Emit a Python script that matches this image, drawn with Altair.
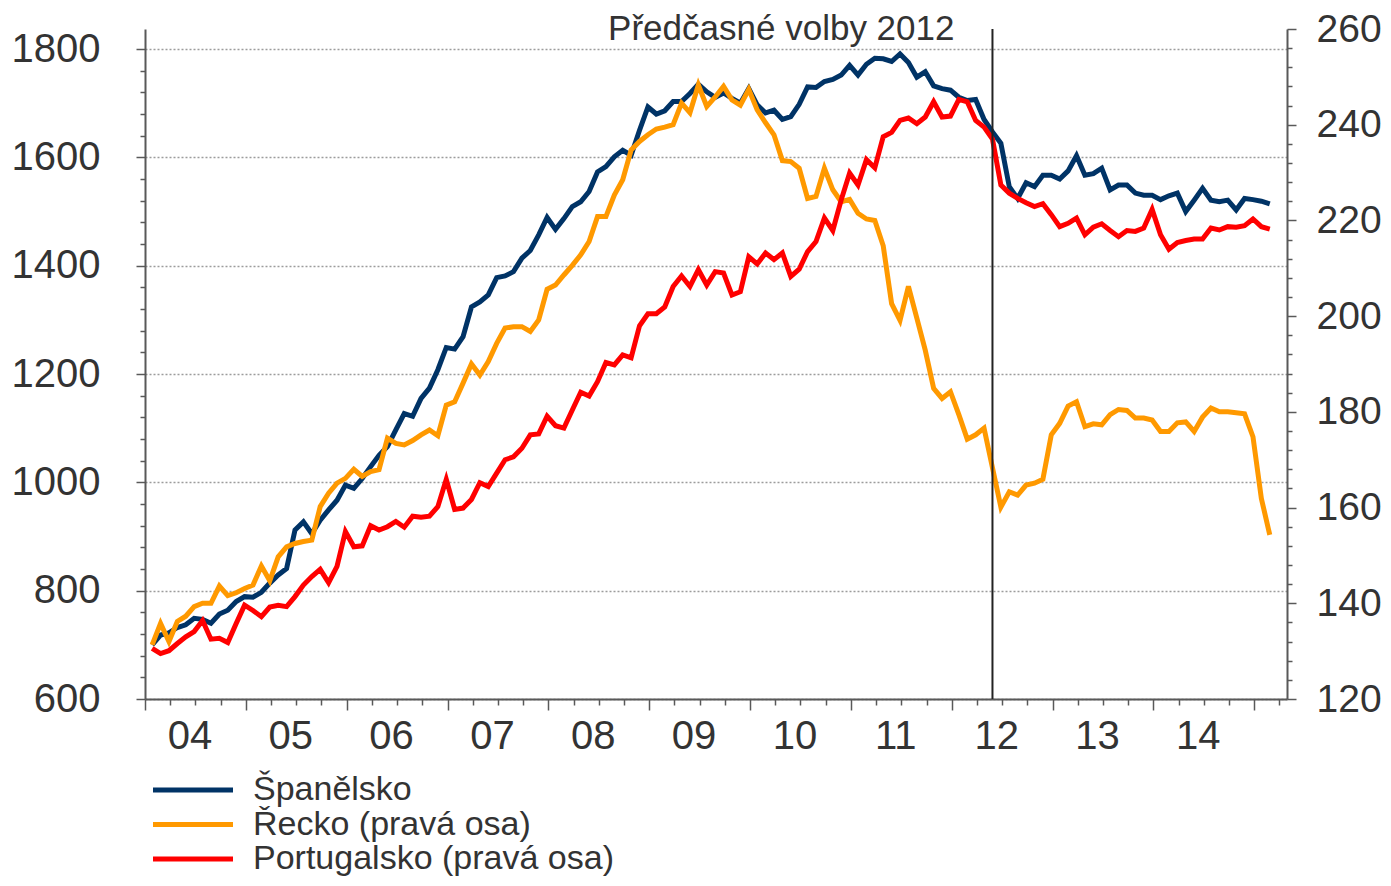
import json
import altair as alt
import pandas as pd

FONT = "Liberation Sans"
TXT = "#333333"
AX = "#595959"

series = ["Španělsko", "Řecko (pravá osa)", "Portugalsko (pravá osa)"]
colors = ["#003366", "#FF9900", "#FF0000"]
year_labels = ["04", "05", "06", "07", "08", "09", "10", "11", "12", "13", "14"]
annotation = "Předčasné volby 2012"
event_index = 100  # May 2012 (months since Jan 2004)

# Spain (left axis, EUR bn), monthly Jan 2004 - Feb 2015
spain = [700, 718, 722, 732, 737, 749, 747, 740, 757, 764, 780, 789,
         788, 797, 814, 829, 841, 912, 927, 905, 930, 949, 967, 995,
         989, 1007, 1029, 1050, 1066, 1097, 1127, 1122, 1155, 1174, 1208, 1249,
         1246, 1269, 1324, 1333, 1346, 1378, 1381, 1389, 1414, 1428, 1457, 1489,
         1467, 1487, 1509, 1518, 1537, 1573, 1583, 1601, 1613, 1604, 1650, 1693,
         1680, 1686, 1703, 1703, 1718, 1735, 1721, 1711, 1719, 1709, 1700, 1727,
         1697, 1682, 1687, 1670, 1675, 1698, 1730, 1729, 1740, 1744, 1752, 1770,
         1752, 1772, 1783, 1782, 1777, 1791, 1775, 1748, 1758, 1732, 1727, 1724,
         1711, 1705, 1707, 1670, 1647, 1626, 1546, 1524, 1553, 1546, 1567, 1567,
         1560, 1575, 1603, 1567, 1570, 1580, 1540, 1549, 1549, 1534, 1530, 1530,
         1522, 1529, 1534, 1500, 1521, 1543, 1521, 1518, 1521, 1503, 1524, 1522,
         1519, 1514]

# Greece (right axis)
greece = [131.3, 135.8, 132.0, 136.2, 137.3, 139.3, 140.0, 140.0, 143.6, 141.6, 142.2, 143.1,
          143.8, 147.8, 144.7, 149.7, 151.8, 152.5, 152.9, 153.2, 160.2, 163.0, 165.1, 166.1,
          168.0, 166.5, 167.5, 167.9, 174.5, 173.4, 173.1, 174.0, 175.2, 176.2, 175.0, 181.4,
          182.1, 186.0, 190.0, 187.7, 190.5, 194.3, 197.5, 197.8, 197.8, 196.8, 199.2, 205.6,
          206.5, 208.6, 210.6, 212.8, 215.6, 220.8, 220.8, 225.3, 228.5, 234.7, 236.5, 237.9,
          239.1, 239.5, 240.0, 244.5, 242.5, 248.3, 243.8, 245.8, 248.0, 245.2, 244.1, 247.4,
          243.1, 240.4, 237.9, 232.5, 232.3, 230.9, 224.6, 225.0, 230.9, 226.4, 223.9, 224.4,
          221.5, 220.3, 220.0, 214.7, 202.6, 199.1, 206.2, 199.6, 192.9, 184.9, 182.8, 184.2,
          179.4, 174.3, 175.2, 176.6, 168.3, 160.1, 163.3, 162.6, 164.7, 165.1, 165.9, 175.2,
          177.6, 181.2, 182.1, 176.9, 177.5, 177.3, 179.4, 180.5, 180.3, 178.7, 178.7, 178.3,
          175.9, 175.9, 177.7, 177.9, 175.9, 178.9, 180.8, 180.0, 180.0, 179.8, 179.6, 174.8,
          161.9, 154.3]

# Portugal (right axis)
portugal = [130.6, 129.5, 130.1, 131.6, 133.0, 134.1, 136.4, 132.5, 132.7, 131.8, 135.8, 139.6,
            138.5, 137.2, 139.2, 139.6, 139.3, 141.4, 143.8, 145.6, 147.1, 144.3, 147.7, 155.0,
            151.8, 152.0, 156.2, 155.3, 156.0, 157.1, 155.9, 158.2, 158.0, 158.2, 160.2, 165.9,
            159.6, 159.9, 161.7, 165.2, 164.4, 167.2, 170.0, 170.6, 172.4, 175.2, 175.4, 179.1,
            177.1, 176.6, 180.4, 184.1, 183.3, 186.3, 190.3, 189.8, 191.9, 191.3, 198.0, 200.5,
            200.5, 201.9, 206.2, 208.4, 206.2, 209.7, 206.5, 209.3, 209.0, 204.4, 205.1, 212.4,
            210.9, 213.2, 211.8, 213.2, 208.3, 209.8, 213.5, 215.6, 220.5, 217.9, 224.3, 229.9,
            227.4, 232.7, 231.0, 237.5, 238.4, 240.9, 241.4, 240.2, 241.6, 244.8, 241.6, 241.8,
            245.3, 244.8, 240.9, 239.5, 237.0, 227.4, 225.7, 224.6, 223.7, 222.9, 223.5, 221.2,
            218.7, 219.4, 220.5, 217.0, 218.6, 219.3, 217.9, 216.6, 217.9, 217.7, 218.4, 222.3,
            217.0, 214.0, 215.4, 215.8, 216.1, 216.1, 218.4, 218.0, 218.7, 218.6, 218.9, 220.3,
            218.7, 218.2]

OFFSET = 0.85
months = [i + OFFSET for i in range(len(spain))]

df_es = pd.DataFrame({"month": months, "value": spain, "series": series[0]})
df_gr = pd.DataFrame({"month": months, "value": greece, "series": series[1]})
df_pt = pd.DataFrame({"month": months, "value": portugal, "series": series[2]})
df_event = pd.DataFrame({"month": [event_index + OFFSET], "label": [annotation]})
df_leg = pd.DataFrame({"series": series, "row": list(range(len(series)))})

xs = alt.Scale(domain=[0, 135.9], nice=False, zero=False)
ys_left = alt.Scale(domain=[600, 1837], nice=False, zero=False)
ys_right = alt.Scale(domain=[120, 260], nice=False, zero=False)
color = alt.Color("series:N", scale=alt.Scale(domain=series, range=colors), legend=None)

common = dict(title=None, labelFlush=False, labelOverlap=False, tickColor=AX, tickWidth=1.5)

left_major = alt.Axis(orient="left", values=list(range(600, 1801, 200)), tickSize=9,
                      format="d",
                      domain=True, domainColor=AX, domainWidth=2,
                      labelFontSize=40, labelFont=FONT, labelColor=TXT, labelPadding=36,
                      grid=True, gridColor="#9c9c9c", gridDash=[2, 2], gridWidth=1.5, **common)
left_minor = alt.Axis(orient="left", values=[v for v in range(640, 1837, 40) if v % 200],
                      tickSize=5, labels=False, domain=False, grid=False, **common)
right_major = alt.Axis(orient="right", values=list(range(120, 261, 20)), tickSize=9,
                       format="d",
                       domain=True, domainColor=AX, domainWidth=2,
                       labelFontSize=39, labelFont=FONT, labelColor=TXT, labelPadding=20,
                       grid=False, **common)
right_minor = alt.Axis(orient="right", values=[v for v in range(124, 260, 4) if v % 20],
                       tickSize=5, labels=False, domain=False, grid=False, **common)
x_major = alt.Axis(orient="bottom", values=list(range(0, 133, 12)), tickSize=11, labels=False,
                   domain=True, domainColor=AX, domainWidth=2, grid=False, **common)
x_minor = alt.Axis(orient="bottom", values=[m for m in range(3, 136, 3) if m % 12], tickSize=6,
                   labels=False, domain=False, grid=False, **common)
x_labels = alt.Axis(orient="bottom", values=[6 + 12 * k for k in range(len(year_labels))],
                    ticks=False, tickSize=0, domain=False, grid=False,
                    labelExpr=json.dumps(year_labels) + "[floor(datum.value / 12)]",
                    labelFontSize=40, labelFont=FONT, labelColor=TXT, labelPadding=17,
                    labelOffset=-6, title=None, labelFlush=False, labelOverlap=False)

line_kw = dict(strokeWidth=5, strokeJoin="miter")

ghost = alt.Chart(df_es).mark_line(strokeOpacity=0).encode(
    x=alt.X("month:Q", scale=xs, axis=None),
    y=alt.Y("value:Q", scale=ys_left, axis=left_minor),
)
l_es = alt.Chart(df_es).mark_line(**line_kw).encode(
    x=alt.X("month:Q", scale=xs, axis=x_major),
    y=alt.Y("value:Q", scale=ys_left, axis=left_major),
    color=color,
)
l_gr = alt.Chart(df_gr).mark_line(**line_kw).encode(
    x=alt.X("month:Q", scale=xs, axis=x_minor),
    y=alt.Y("value:Q", scale=ys_right, axis=right_major),
    color=color,
)
l_pt = alt.Chart(df_pt).mark_line(**line_kw).encode(
    x=alt.X("month:Q", scale=xs, axis=x_labels),
    y=alt.Y("value:Q", scale=ys_right, axis=right_minor),
    color=color,
)
rule = alt.Chart(df_event).mark_rule(color="#222222", strokeWidth=2).encode(
    x=alt.X("month:Q", scale=xs, axis=None),
)
note = alt.Chart(df_event).mark_text(align="right", baseline="alphabetic", dx=-38,
                                     fontSize=35, font=FONT, color=TXT).encode(
    x=alt.X("month:Q", scale=xs, axis=None),
    y=alt.value(11),
    text="label:N",
)
leg_y = alt.Y("row:Q", scale=alt.Scale(domain=[0, 2], range=[761, 830]), axis=None)
leg_line = alt.Chart(df_leg).mark_rule(strokeWidth=5).encode(
    x=alt.value(8), x2=alt.value(88), y=leg_y, color=color,
)
leg_text = alt.Chart(df_leg).mark_text(align="left", baseline="middle", fontSize=34,
                                       font=FONT, color=TXT).encode(
    x=alt.value(108), y=leg_y, text="series:N",
)

chart = alt.layer(ghost, l_es, l_gr, l_pt, rule, note, leg_line, leg_text).resolve_scale(
    x="independent", y="independent"
).properties(
    width=1142, height=670,
    padding={"left": 137, "top": 21, "right": 96, "bottom": 179},
    autosize=alt.AutoSizeParams(type="none"),
    background="white",
).configure_view(stroke=None)

chart.save("out.html", embed_options={"renderer": "svg", "actions": False})
